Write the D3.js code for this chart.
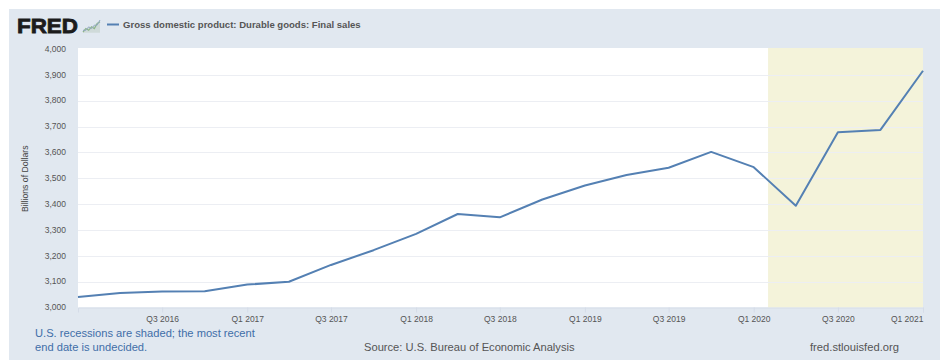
<!DOCTYPE html>
<html>
<head>
<meta charset="utf-8">
<script src="https://cdn.jsdelivr.net/npm/d3@7"></script>
<style>
  html, body { margin: 0; padding: 0; background: #fff; }
  svg { display: block; }
  text { font-family: "Liberation Sans", Arial, sans-serif; }
</style>
</head>
<body>
<svg id="chart" width="940" height="360"></svg>
<script>
// Gross domestic product: Durable goods: Final sales, billions of dollars, quarterly
const quarterStarts = [
  "2016-01-01","2016-04-01","2016-07-01","2016-10-01",
  "2017-01-01","2017-04-01","2017-07-01","2017-10-01",
  "2018-01-01","2018-04-01","2018-07-01","2018-10-01",
  "2019-01-01","2019-04-01","2019-07-01","2019-10-01",
  "2020-01-01","2020-04-01","2020-07-01","2020-10-01",
  "2021-01-01"
];
const durableSales = [
  3041, 3056, 3062, 3063,
  3089, 3100, 3165, 3222,
  3285, 3362, 3349, 3418,
  3472, 3513, 3541, 3602,
  3543, 3394, 3678, 3687,
  3916
];
const yTickValues = [3000, 3100, 3200, 3300, 3400, 3500, 3600, 3700, 3800, 3900, 4000];
const xTickDates = ["2016-07-01","2017-01-01","2017-07-01","2018-01-01","2018-07-01","2019-01-01","2019-07-01","2020-01-01","2020-07-01","2021-01-01"];
const xTickLabels = ["Q3 2016","Q1 2017","Q3 2017","Q1 2018","Q3 2018","Q1 2019","Q3 2019","Q1 2020","Q3 2020","Q1 2021"];
const recessionSpan = ["2020-02-01", "2021-01-01"];
const logoSparkA = [0, 2, 1, 3, 2, 5, 6];
const logoSparkB = [1, 1, 3, 2, 4, 4, 7];

const parse = d3.utcParse("%Y-%m-%d");
const plot = { left: 78, right: 923, top: 48, bottom: 307.5 };

const svg = d3.select("#chart");

// Page panel behind the chart
svg.append("rect").attr("x", 9).attr("y", 9).attr("width", 931).attr("height", 351).attr("fill", "#e1e8f0");
svg.append("rect")
  .attr("x", plot.left).attr("y", plot.top)
  .attr("width", plot.right - plot.left).attr("height", plot.bottom - plot.top)
  .attr("fill", "#fff");

const x = d3.scaleUtc()
  .domain(d3.extent(quarterStarts, parse))
  .range([plot.left, plot.right]);
const y = d3.scaleLinear().domain([3000, 4000]).range([307.6, 49]);

// Recession band
svg.append("rect")
  .attr("x", x(parse(recessionSpan[0])))
  .attr("y", plot.top)
  .attr("width", plot.right - x(parse(recessionSpan[0])))
  .attr("height", plot.bottom - plot.top)
  .attr("fill", "#f4f3da");

// Horizontal grid
svg.append("g").selectAll("line")
  .data(yTickValues.filter(v => v > 3000 && v < 4000))
  .join("line")
  .attr("x1", plot.left).attr("x2", plot.right)
  .attr("y1", d => Math.round(y(d)) + 0.5).attr("y2", d => Math.round(y(d)) + 0.5)
  .attr("stroke", "#eceef3").attr("stroke-width", 1);

// Value axis labels
const yAxis = d3.axisLeft(y)
  .tickValues(yTickValues)
  .tickSize(0)
  .tickPadding(0)
  .tickFormat(d3.format(","));
const yG = svg.append("g")
  .attr("transform", `translate(66,-0.5)`)
  .call(yAxis);
yG.select(".domain").remove();
yG.selectAll("text").attr("font-size", 8.5).attr("fill", "#555").style("font-family", '"Liberation Sans", Arial, sans-serif');

// Time axis
const xAxis = d3.axisBottom(x)
  .tickValues(xTickDates.map(parse))
  .tickSize(5)
  .tickPadding(3)
  .tickFormat((d, i) => xTickLabels[i]);
const xG = svg.append("g")
  .attr("transform", `translate(0,${plot.bottom})`)
  .call(xAxis);
xG.select(".domain").attr("stroke", "#d5dce8");
xG.selectAll("line").attr("stroke", "#d5dce8");
xG.selectAll("text")
  .attr("font-size", 8.5).attr("fill", "#555")
  .style("font-family", '"Liberation Sans", Arial, sans-serif')
  .attr("text-anchor", (d, i) => i === xTickLabels.length - 1 ? "end" : "middle");

// Series line
const line = d3.line()
  .x((d, i) => x(parse(quarterStarts[i])))
  .y(d => y(d));
svg.append("path")
  .datum(durableSales)
  .attr("d", line)
  .attr("fill", "none")
  .attr("stroke", "#5480b3")
  .attr("stroke-width", 2)
  .attr("stroke-linejoin", "round");

// Axis title
svg.append("text")
  .attr("transform", `translate(28,${(plot.top + plot.bottom) / 2 + 1}) rotate(-90)`)
  .attr("text-anchor", "middle")
  .attr("font-size", 8.7)
  .attr("fill", "#444")
  .text("Billions of Dollars");

// Header: wordmark, small sparkline badge and legend entry
svg.append("text")
  .attr("x", 17).attr("y", 33)
  .attr("font-size", 21).attr("font-weight", 700)
  .attr("fill", "#1c1c1c")
  .attr("textLength", 61).attr("lengthAdjust", "spacingAndGlyphs")
  .attr("stroke", "#1c1c1c").attr("stroke-width", 0.8)
  .text("FRED");

const sparkX = d3.scaleLinear().domain([0, 6]).range([83, 100]);
const sparkY = d3.scaleLinear().domain([0, 7]).range([32, 20]);
const sparkLine = d3.line().x((d, i) => sparkX(i)).y(d => sparkY(d));
const sparkArea = d3.area().x((d, i) => sparkX(i)).y0(sparkY(-0.5)).y1(d => sparkY(d));
svg.append("path").datum(logoSparkB).attr("d", sparkArea).attr("fill", "#cfdad9");
svg.append("path").datum(logoSparkA).attr("d", sparkLine).attr("fill", "none").attr("stroke", "#8db58a").attr("stroke-width", 1.2);
svg.append("path").datum(logoSparkB).attr("d", sparkLine).attr("fill", "none").attr("stroke", "#93a9c2").attr("stroke-width", 1);

svg.append("line")
  .attr("x1", 107).attr("x2", 119).attr("y1", 24.5).attr("y2", 24.5)
  .attr("stroke", "#5480b3").attr("stroke-width", 2);
svg.append("text")
  .attr("x", 123).attr("y", 28)
  .attr("font-size", 9.55).attr("font-weight", 700)
  .attr("fill", "#555")
  .text("Gross domestic product: Durable goods: Final sales");

// Footer notes
const noteLines = ["U.S. recessions are shaded; the most recent", "end date is undecided."];
svg.append("g").selectAll("text")
  .data(noteLines)
  .join("text")
  .attr("x", 35).attr("y", (d, i) => 337 + i * 14)
  .attr("font-size", 11.15)
  .attr("fill", "#3f6ea8")
  .text(d => d);

svg.append("text")
  .attr("x", 364).attr("y", 351)
  .attr("font-size", 11.15).attr("fill", "#555")
  .text("Source: U.S. Bureau of Economic Analysis");

svg.append("text")
  .attr("x", 810).attr("y", 351)
  .attr("font-size", 11.2).attr("fill", "#555")
  .text("fred.stlouisfed.org");
</script>
</body>
</html>
